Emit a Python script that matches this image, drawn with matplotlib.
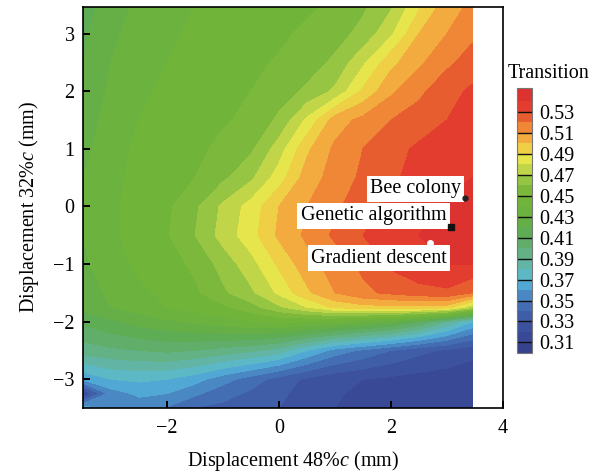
import numpy as np
import matplotlib
matplotlib.use('Agg')
import matplotlib.pyplot as plt

plt.rcParams['font.family'] = ['Liberation Serif', 'DejaVu Serif']
plt.rcParams['mathtext.fontset'] = 'custom'
plt.rcParams['mathtext.rm'] = 'Liberation Serif'
plt.rcParams['mathtext.it'] = 'Liberation Serif:italic'

# grid nodes (mm)
disp48 = [-3.5, -3.0, -2.5, -2.0, -1.5, -1.0, -0.5, 0.0, 0.5, 1.0, 1.5, 2.0, 2.5, 3.0, 3.45]
disp32 = [3.5, 3.0, 2.5, 2.0, 1.5, 1.0, 0.5, 0.0, -0.5, -1.0, -1.5, -1.75, -2.0, -2.5, -3.0, -3.25, -3.5]

# transition location, one row per disp32 value (top to bottom)
transition = [
    [0.415, 0.425, 0.432, 0.436, 0.440, 0.442, 0.444, 0.446, 0.448, 0.452, 0.458, 0.468, 0.488, 0.505, 0.512],
    [0.418, 0.428, 0.434, 0.438, 0.442, 0.444, 0.446, 0.448, 0.452, 0.456, 0.463, 0.478, 0.500, 0.510, 0.518],
    [0.420, 0.430, 0.436, 0.440, 0.443, 0.446, 0.448, 0.451, 0.455, 0.462, 0.478, 0.497, 0.508, 0.518, 0.524],
    [0.422, 0.432, 0.438, 0.442, 0.445, 0.448, 0.450, 0.455, 0.462, 0.472, 0.492, 0.508, 0.518, 0.526, 0.532],
    [0.425, 0.434, 0.440, 0.443, 0.446, 0.449, 0.452, 0.462, 0.482, 0.505, 0.513, 0.520, 0.524, 0.530, 0.535],
    [0.427, 0.436, 0.442, 0.445, 0.448, 0.452, 0.458, 0.475, 0.498, 0.512, 0.520, 0.526, 0.532, 0.536, 0.538],
    [0.430, 0.437, 0.443, 0.446, 0.450, 0.458, 0.468, 0.485, 0.505, 0.514, 0.522, 0.528, 0.534, 0.538, 0.540],
    [0.430, 0.438, 0.444, 0.448, 0.458, 0.472, 0.484, 0.500, 0.510, 0.518, 0.526, 0.532, 0.537, 0.541, 0.542],
    [0.430, 0.438, 0.444, 0.449, 0.460, 0.474, 0.486, 0.502, 0.512, 0.522, 0.530, 0.536, 0.540, 0.543, 0.543],
    [0.428, 0.436, 0.442, 0.446, 0.452, 0.464, 0.476, 0.492, 0.506, 0.514, 0.522, 0.532, 0.538, 0.540, 0.540],
    [0.425, 0.432, 0.438, 0.442, 0.448, 0.458, 0.468, 0.482, 0.498, 0.510, 0.518, 0.522, 0.526, 0.528, 0.520],
    [0.423, 0.430, 0.435, 0.440, 0.444, 0.448, 0.456, 0.468, 0.480, 0.492, 0.496, 0.497, 0.497, 0.495, 0.472],
    [0.412, 0.418, 0.424, 0.428, 0.432, 0.436, 0.440, 0.442, 0.440, 0.436, 0.430, 0.424, 0.410, 0.390, 0.370],
    [0.395, 0.398, 0.400, 0.402, 0.400, 0.396, 0.392, 0.385, 0.370, 0.356, 0.348, 0.340, 0.333, 0.328, 0.323],
    [0.362, 0.370, 0.372, 0.370, 0.364, 0.354, 0.345, 0.336, 0.328, 0.323, 0.320, 0.318, 0.316, 0.315, 0.314],
    [0.318, 0.355, 0.362, 0.360, 0.352, 0.344, 0.338, 0.332, 0.326, 0.321, 0.318, 0.316, 0.315, 0.314, 0.313],
    [0.365, 0.358, 0.354, 0.349, 0.340, 0.337, 0.334, 0.330, 0.325, 0.320, 0.318, 0.315, 0.314, 0.313, 0.312],
]

# optimum points found by each method
opt_names = ['Bee colony', 'Genetic algorithm', 'Gradient descent']
opt_x = [3.33, 3.07, 2.70]
opt_y = [0.14, -0.35, -0.63]

levels = [0.30, 0.31, 0.32, 0.33, 0.34, 0.35, 0.36, 0.37, 0.38, 0.39, 0.40, 0.41, 0.42,
          0.43, 0.44, 0.45, 0.46, 0.47, 0.48, 0.49, 0.50, 0.51, 0.52, 0.53, 0.54, 0.553]
band_colors = ['#36428c', '#3a4996', '#3d529f', '#405da8', '#446eb4', '#4a88c4', '#52a8d4',
               '#5cb8c4', '#62b5a4', '#63b286', '#60ae6a', '#5eac54', '#66ae46', '#6bb23e',
               '#71b43a', '#7cb83c', '#96c443', '#c0d547', '#e6e54c', '#eecf45', '#f3aa3e',
               '#ef8736', '#e85d30', '#e23d2e', '#dc3330']

xs = np.array(disp48)
ys = np.array(disp32)[::-1]
z = np.array(transition)[::-1]

fig = plt.figure(figsize=(5.99, 4.75), dpi=100)
ax = fig.add_axes([0.1386, 0.141, 0.701, 0.845])
cf = ax.contourf(xs, ys, z, levels=levels, colors=band_colors)

# markers
ax.plot(opt_x[0], opt_y[0], 'o', color='#222222', ms=3.5, zorder=5)
ax.plot(opt_x[1], opt_y[1], 's', color='#111111', ms=4, zorder=5)
ax.plot(opt_x[2], opt_y[2], 'o', color='white', ms=4, zorder=5)

box = dict(facecolor='white', edgecolor='none', pad=2.5)
ax.text(opt_x[0] - 0.08, opt_y[0] + 0.17, opt_names[0], ha='right', va='center', fontsize=14.5, bbox=box)
ax.text(opt_x[1] - 0.08, opt_y[1] + 0.19, opt_names[1], ha='right', va='center', fontsize=14.5, bbox=box)
ax.text(opt_x[2] + 0.30, opt_y[2] - 0.27, opt_names[2], ha='right', va='center', fontsize=14.5, bbox=box)

ax.set_xlim(-3.5, 4)
ax.set_ylim(-3.5, 3.47)
ax.set_xticks([-2, 0, 2, 4])
ax.set_xticklabels(['\u22122', '0', '2', '4'])
ax.set_yticks([-3, -2, -1, 0, 1, 2, 3])
ax.set_yticklabels(['\u22123', '\u22122', '\u22121', '0', '1', '2', '3'])
ax.tick_params(direction='in', length=5, width=1.4, labelsize=14.5)
ax.tick_params(axis='x', pad=8)
ax.tick_params(axis='y', pad=6)
for s in ax.spines.values():
    s.set_linewidth(1.2)
ax.set_xlabel('Displacement 48%$c$ (mm)', fontsize=14.5, labelpad=8)
ax.set_ylabel('Displacement 32%$c$ (mm)', fontsize=14.5, labelpad=9)

cax = fig.add_axes([0.863, 0.257, 0.025, 0.558])
cb = fig.colorbar(cf, cax=cax, spacing='proportional')
cticks = [0.31, 0.33, 0.35, 0.37, 0.39, 0.41, 0.43, 0.45, 0.47, 0.49, 0.51, 0.53]
cb.set_ticks(cticks)
cb.set_ticklabels(['%.2f' % t for t in cticks])
for t in cticks:
    cax.axhline(t, color='#111111', lw=1.0)
cax.tick_params(length=0, labelsize=14.5, pad=5)
cb.outline.set_edgecolor('#777777')
cb.outline.set_linewidth(0.8)
fig.text(0.848, 0.846, 'Transition', ha='left', va='center', fontsize=14.5)

fig.savefig('out.png', dpi=100)
